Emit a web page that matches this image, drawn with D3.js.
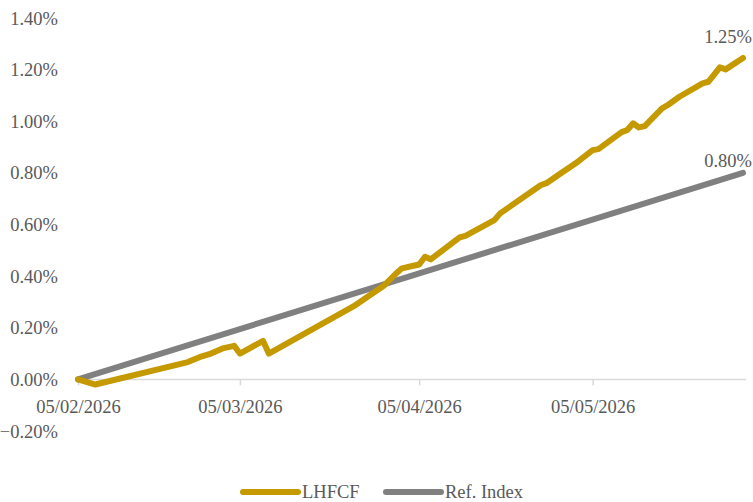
<!DOCTYPE html>
<html>
<head>
<meta charset="utf-8">
<script src="https://cdn.jsdelivr.net/npm/d3@7"></script>
<style>
  html, body { margin: 0; padding: 0; background: #fff; }
  svg text { font-family: "Liberation Serif", "DejaVu Serif", serif; fill: #595959; }
</style>
</head>
<body>
<svg id="chart" width="753" height="502"></svg>
<script>
// ---- data ----
const lhfcfDates = ["2026-02-05","2026-02-08","2026-02-24","2026-02-26","2026-02-28","2026-03-02","2026-03-04","2026-03-05","2026-03-09","2026-03-10","2026-03-25","2026-03-30","2026-04-01","2026-04-02","2026-04-04","2026-04-05","2026-04-06","2026-04-07","2026-04-12","2026-04-13","2026-04-18","2026-04-19","2026-04-26","2026-04-27","2026-04-29","2026-05-02","2026-05-05","2026-05-06","2026-05-10","2026-05-11","2026-05-12","2026-05-13","2026-05-14","2026-05-17","2026-05-18","2026-05-20","2026-05-24","2026-05-25","2026-05-27","2026-05-28","2026-05-31"];
const lhfcfValues = [0.00,-0.02,0.067,0.086,0.10,0.12,0.13,0.10,0.149,0.10,0.288,0.365,0.41,0.43,0.44,0.445,0.475,0.465,0.55,0.556,0.617,0.643,0.752,0.76,0.791,0.836,0.888,0.892,0.958,0.966,0.992,0.976,0.981,1.05,1.063,1.095,1.147,1.153,1.209,1.201,1.245];
const refDates = ["2026-02-05","2026-05-31"];
const refValues = [0.00, 0.80];
const xTickDates = ["2026-02-05","2026-03-05","2026-04-05","2026-05-05"];
const yTickValues = [-0.2,0,0.2,0.4,0.6,0.8,1.0,1.2,1.4];
const seriesNames = ["LHFCF","Ref. Index"];
const endLabels = ["1.25%","0.80%"];
const colors = ["#C49A00","#808080"];

// ---- chart ----
const parse = d3.utcParse("%Y-%m-%d");
const svg = d3.select("#chart");
const font = 18.5;

const x = d3.scaleUtc()
  .domain([parse("2026-02-05"), parse("2026-05-31")])
  .range([78, 743]);
const y = d3.scaleLinear().domain([-0.2, 1.4]).range([431, 18]);

// y axis labels (no line)
const yAxis = svg.append("g").attr("transform", "translate(58,0)")
  .call(d3.axisLeft(y).tickValues(yTickValues).tickSize(0).tickPadding(0)
    .tickFormat(d => d3.format(".2f")(d) + "%"));
yAxis.select(".domain").remove();
yAxis.selectAll("text").style("font-size", font + "px").attr("dy", "0.33em");

// x axis at zero
const xAxis = svg.append("g").attr("transform", `translate(0,${y(0)})`)
  .call(d3.axisBottom(x).tickValues(xTickDates.map(parse)).tickSize(6).tickSizeOuter(0)
    .tickFormat(d3.utcFormat("%d/%m/%Y")));
xAxis.select(".domain").attr("stroke", "#d9d9d9").attr("stroke-width", 1.5)
  .attr("d", `M${x.range()[0]},0H746`);
xAxis.selectAll(".tick line").attr("stroke", "#d9d9d9").attr("stroke-width", 1.5);
xAxis.selectAll("text").style("font-size", font + "px").attr("y", 34).attr("dy", 0);

const line = d3.line().x(d => x(d[0])).y(d => y(d[1]));

const series = [
  lhfcfDates.map((d, i) => [parse(d), lhfcfValues[i]]),
  refDates.map((d, i) => [parse(d), refValues[i]])
];
const labelDy = [15, 6];

[1, 0].forEach(i => {
  svg.append("path").datum(series[i])
    .attr("fill", "none").attr("stroke", colors[i]).attr("stroke-width", 6)
    .attr("stroke-linejoin", "round").attr("stroke-linecap", "round")
    .attr("d", line);
});

series.forEach((s, i) => {
  const last = s[s.length - 1];
  svg.append("text").attr("x", 752).attr("text-anchor", "end")
    .attr("y", y(last[1]) - labelDy[i])
    .style("font-size", font + "px").text(endLabels[i]);
});

// legend
const legendX = [243, 386];
seriesNames.forEach((n, i) => {
  svg.append("line").attr("x1", legendX[i]).attr("x2", legendX[i] + 55)
    .attr("y1", 492).attr("y2", 492).attr("stroke", colors[i]).attr("stroke-width", 6)
    .attr("stroke-linecap", "round");
  svg.append("text").attr("x", legendX[i] + 59).attr("y", 498)
    .style("font-size", font + "px").text(n);
});
</script>
</body>
</html>
